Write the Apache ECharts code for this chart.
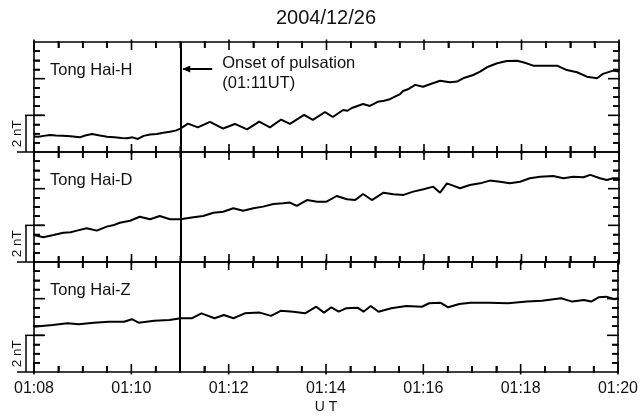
<!DOCTYPE html>
<html><head><meta charset="utf-8">
<script src="https://cdn.jsdelivr.net/npm/echarts/dist/echarts.min.js"></script>
<style>html,body{margin:0;padding:0;background:#fff}#c{width:641px;height:418px}</style>
</head><body><div id="c"></div>
<script>
// time in minutes after 01:00 UT, values in nT (relative, panel range 0..6 nT)
const titleText = '2004/12/26';
const panelNames = ['Tong Hai-H', 'Tong Hai-D', 'Tong Hai-Z'];
const xMin = 8, xMax = 20, xStep = 2, xMinorStep = 0.5;
const onsetMinute = 11;
const hData = [[8.00,0.85],[8.09,0.83],[8.20,0.88],[8.33,0.93],[8.45,0.90],[8.59,0.89],[8.75,0.86],[8.94,0.80],[9.05,0.90],[9.19,0.98],[9.35,0.90],[9.50,0.83],[9.65,0.80],[9.80,0.76],[9.91,0.75],[10.02,0.80],[10.13,0.71],[10.25,0.88],[10.38,0.95],[10.52,0.98],[10.65,1.05],[10.79,1.11],[10.92,1.18],[11.00,1.28],
[11.16,1.55],[11.36,1.34],[11.61,1.64],[11.88,1.28],[12.12,1.53],[12.37,1.23],[12.62,1.66],[12.84,1.34],[13.07,1.77],[13.25,1.53],[13.54,2.02],[13.72,1.75],[13.97,2.18],[14.13,1.91],[14.34,2.29],[14.43,2.25],[14.52,2.40],[14.75,2.62],[14.89,2.51],[15.05,2.74],[15.18,2.80],[15.30,2.88],[15.51,3.16],[15.57,3.33],[15.67,3.42],[15.82,3.66],[15.98,3.56],[16.18,3.75],[16.33,3.89],[16.53,3.80],[16.68,3.84],[16.80,4.02],[17.01,4.20],[17.15,4.38],[17.29,4.62],[17.50,4.84],[17.70,4.96],[17.91,4.98],[18.07,4.87],[18.24,4.71],[18.52,4.71],[18.73,4.71],[18.93,4.47],[19.14,4.35],[19.34,4.11],[19.55,4.02],[19.67,4.26],[19.88,4.44],[20.00,4.39]];
const dData = [[8.00,1.47],[8.19,1.35],[8.40,1.47],[8.60,1.60],[8.75,1.62],[8.88,1.71],[9.08,1.84],[9.29,1.71],[9.49,1.93],[9.62,2.00],[9.76,2.14],[9.97,2.25],[10.17,2.47],[10.38,2.33],[10.58,2.51],[10.79,2.33],[11.00,2.33],[11.27,2.44],[11.47,2.51],[11.68,2.69],[11.88,2.74],[12.09,2.93],[12.29,2.80],[12.50,2.93],[12.70,3.02],[12.91,3.16],[13.11,3.20],[13.25,3.24],[13.39,3.06],[13.60,3.38],[13.81,3.29],[14.00,3.29],[14.21,3.60],[14.42,3.42],[14.59,3.38],[14.75,3.71],[14.93,3.38],[15.17,3.78],[15.37,3.69],[15.58,3.66],[15.78,3.84],[15.99,3.97],[16.19,4.11],[16.33,3.78],[16.47,4.29],[16.61,4.15],[16.74,4.02],[16.94,4.20],[17.15,4.29],[17.35,4.44],[17.56,4.38],[17.76,4.29],[17.97,4.38],[18.17,4.57],[18.38,4.65],[18.65,4.69],[18.86,4.57],[19.06,4.65],[19.27,4.62],[19.41,4.75],[19.61,4.57],[19.75,4.47],[19.88,4.57],[20.00,4.57]];
const zData = [[8.00,2.47],[8.38,2.56],[8.69,2.66],[8.92,2.60],[9.23,2.69],[9.54,2.74],[9.85,2.74],[10.01,2.88],[10.15,2.69],[10.47,2.80],[10.78,2.84],[11.02,2.93],[11.24,2.93],[11.44,3.20],[11.71,2.93],[11.90,3.11],[12.10,2.93],[12.33,3.20],[12.64,3.24],[12.87,3.06],[13.07,3.34],[13.33,3.29],[13.57,3.20],[13.80,3.56],[13.96,3.24],[14.11,3.53],[14.26,3.29],[14.42,3.48],[14.65,3.51],[14.77,3.29],[14.92,3.60],[15.08,3.29],[15.34,3.48],[15.65,3.60],[15.97,3.56],[16.12,3.75],[16.35,3.78],[16.51,3.53],[16.74,3.71],[16.97,3.78],[17.35,3.78],[17.74,3.75],[18.13,3.84],[18.44,3.89],[18.83,4.02],[19.06,3.84],[19.30,3.93],[19.45,3.84],[19.61,4.08],[19.76,4.11],[19.92,3.97],[20.00,4.02]];
const panelData = [hData, dData, zData];
const yMin = 0, yMax = 6, yStep = 2, yMinorStep = 0.5, scaleBarNT = 2;

const FONT = '"Liberation Sans", Arial, sans-serif';
const chart = echarts.init(document.getElementById('c'), null, {renderer: 'canvas'});
const gridTop = 42, gridH = 110, gridL = 34, gridR = 22, gridW = 641 - gridL - gridR;
const grids = [], xAxes = [], yAxes = [], series = [];
const lineCol = '#000';
const fmt = v => '01:' + String(v).padStart(2, '0');
const isMaj = (v, s) => Math.abs(v / s - Math.round(v / s)) < 1e-6;
// minor tick segments expressed in axis units (about 6 px long)
const dyTick = 6 * (yMax - yMin) / gridH, dxTick = 6 * (xMax - xMin) / gridW;
const tickSegStyle = {color: '#000', width: 1.5, type: 'solid'};
function minorTickSegments() {
  const segs = [];
  for (let v = xMin + xMinorStep; v < xMax - 1e-9; v += xMinorStep) {
    if (isMaj(v, xStep)) continue;
    segs.push([{coord: [v, yMin], lineStyle: tickSegStyle}, {coord: [v, yMin + dyTick]}]);
    segs.push([{coord: [v, yMax], lineStyle: tickSegStyle}, {coord: [v, yMax - dyTick]}]);
  }
  for (let v = yMin + yMinorStep; v < yMax - 1e-9; v += yMinorStep) {
    if (isMaj(v, yStep)) continue;
    segs.push([{coord: [xMin, v], lineStyle: tickSegStyle}, {coord: [xMin + dxTick, v]}]);
    segs.push([{coord: [xMax, v], lineStyle: tickSegStyle}, {coord: [xMax - dxTick, v]}]);
  }
  return segs;
}
panelData.forEach((d, i) => {
  grids.push({left: gridL, right: gridR, top: gridTop + gridH * i, height: gridH});
  const xMainIdx = xAxes.length, yMainIdx = yAxes.length;
  ['bottom', 'top'].forEach(pos => {
    xAxes.push({
      type: 'value', gridIndex: i, position: pos, min: xMin, max: xMax, interval: xStep,
      axisLine: {show: true, onZero: false, lineStyle: {color: lineCol, width: 1.6}},
      axisTick: {show: false},
      axisLabel: {show: i === 2 && pos === 'bottom', formatter: fmt, color: '#111', fontSize: 16, fontFamily: FONT, margin: 9},
      splitLine: {show: false}
    });
  });
  ['left', 'right'].forEach(pos => {
    yAxes.push({
      type: 'value', gridIndex: i, position: pos, min: yMin, max: yMax, interval: yStep,
      axisLine: {show: true, onZero: false, lineStyle: {color: lineCol, width: 1.6}},
      axisTick: {show: false}, axisLabel: {show: false}, splitLine: {show: false}
    });
  });
  series.push({
    type: 'line', xAxisIndex: xMainIdx, yAxisIndex: yMainIdx, data: d, symbol: 'none', showSymbol: false,
    lineStyle: {color: '#000', width: 2}, animation: false, z: 3,
    markLine: {silent: true, symbol: 'none', animation: false, label: {show: false},
      lineStyle: {color: '#000', width: 2, type: 'solid'},
      data: [{xAxis: onsetMinute}].concat(minorTickSegments())}
  });
});
chart.setOption({backgroundColor: '#fff', animation: false, grid: grids, xAxis: xAxes, yAxis: yAxes, series: series});

const g = [];
const tickStyle = {stroke: '#000', lineWidth: 1.6};
panelData.forEach((d, i) => {
  const nx = Math.round((xMax - xMin) / xMinorStep);
  for (let k = 0; k <= nx; k++) {
    const v = xMin + k * xMinorStep;
    const pb = chart.convertToPixel({gridIndex: i}, [v, yMin]);
    const pt = chart.convertToPixel({gridIndex: i}, [v, yMax]);
    const maj = isMaj(v, xStep);
    const L = maj ? 8 : 6, o = maj ? 2.5 : 1;
    g.push({type: 'polyline', z: 10, shape: {points: [[pb[0], pb[1] + o], [pb[0], pb[1] - L]]}, style: tickStyle});
    g.push({type: 'polyline', z: 10, shape: {points: [[pt[0], pt[1] - o], [pt[0], pt[1] + L]]}, style: tickStyle});
  }
  const ny = Math.round((yMax - yMin) / yMinorStep);
  for (let k = 1; k < ny; k++) {
    const v = yMin + k * yMinorStep;
    const pl = chart.convertToPixel({gridIndex: i}, [xMin, v]);
    const pr = chart.convertToPixel({gridIndex: i}, [xMax, v]);
    const maj = isMaj(v, yStep);
    const L = maj ? 11 : 6;
    g.push({type: 'polyline', z: 10, shape: {points: [[pl[0] - 1, pl[1]], [pl[0] + L, pl[1]]]}, style: tickStyle});
    g.push({type: 'polyline', z: 10, shape: {points: [[pr[0] + 1, pr[1]], [pr[0] - L, pr[1]]]}, style: tickStyle});
  }
});
const p00 = chart.convertToPixel({gridIndex: 0}, [xMin, yMin]);
const pEnd = chart.convertToPixel({gridIndex: 2}, [xMax, yMin]);
const cx = (p00[0] + pEnd[0]) / 2;
g.push({type: 'text', x: cx, y: 18, style: {text: titleText, fill: '#111', fontSize: 20, fontFamily: FONT, align: 'center', verticalAlign: 'middle'}});
g.push({type: 'text', x: cx, y: 407, style: {text: 'U T', fill: '#111', fontSize: 14, fontFamily: FONT, align: 'center', verticalAlign: 'middle'}});
panelData.forEach((d, i) => {
  const a = chart.convertToPixel({gridIndex: i}, [xMin, yMin]);
  const b = chart.convertToPixel({gridIndex: i}, [xMin, yMin + scaleBarNT]);
  const top = chart.convertToPixel({gridIndex: i}, [xMin, yMax]);
  g.push({type: 'text', x: a[0] + 16, y: top[1] + 28, style: {text: panelNames[i], fill: '#111', fontSize: 16.5, fontFamily: FONT, align: 'left', verticalAlign: 'middle'}});
  const lsty = {stroke: '#000', lineWidth: 1.5};
  g.push({type: 'line', shape: {x1: a[0] - 8, y1: a[1], x2: a[0] - 8, y2: b[1]}, style: lsty});
  g.push({type: 'line', shape: {x1: a[0] - 9, y1: b[1], x2: a[0] + 10, y2: b[1]}, style: lsty});
  g.push({type: 'line', shape: {x1: a[0] - 17, y1: a[1], x2: a[0], y2: a[1]}, style: lsty});
  g.push({type: 'text', x: a[0] - 17, y: (a[1] + b[1]) / 2, rotation: Math.PI / 2,
    style: {text: '2 nT', fill: '#111', fontSize: 13.5, fontFamily: FONT, align: 'center', verticalAlign: 'middle'}});
});
const on = chart.convertToPixel({gridIndex: 0}, [onsetMinute, yMax]);
const ay = on[1] + 27;
g.push({type: 'line', shape: {x1: on[0] + 3, y1: ay, x2: on[0] + 32, y2: ay}, style: {stroke: '#000', lineWidth: 2}});
g.push({type: 'polygon', shape: {points: [[on[0] + 2, ay], [on[0] + 10, ay - 3.5], [on[0] + 10, ay + 3.5]]}, style: {fill: '#000'}});
g.push({type: 'text', x: on[0] + 42, y: on[1] + 21, style: {text: 'Onset of pulsation', fill: '#111', fontSize: 16.5, fontFamily: FONT, align: 'left', verticalAlign: 'middle'}});
g.push({type: 'text', x: on[0] + 42, y: on[1] + 41, style: {text: '(01:11UT)', fill: '#111', fontSize: 16.5, fontFamily: FONT, align: 'left', verticalAlign: 'middle'}});
chart.setOption({graphic: g});
</script>
</body></html>
